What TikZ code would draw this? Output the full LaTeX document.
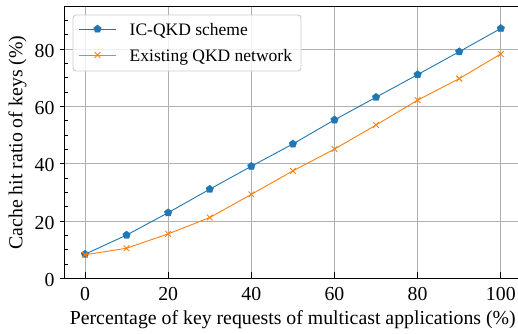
\documentclass[tikz,border=0pt]{standalone}
\usepackage{fontspec}
\setmainfont{Liberation Serif}
\usetikzlibrary{plotmarks}
\definecolor{mplblue}{HTML}{1F77B4}
\definecolor{mplorange}{HTML}{FF7F0E}
\definecolor{gridgray}{HTML}{B0B0B0}
\definecolor{legendedge}{HTML}{CCCCCC}
\tikzset{
  gridline/.style={draw=gridgray, line width=0.9pt},
  axisline/.style={draw=black, line width=1pt},
  tickline/.style={draw=black, line width=0.9pt},
  bluecurve/.style={draw=mplblue, line width=0.9pt, mark=pentagon*, mark size=4pt,
    mark options={fill=mplblue, draw=mplblue, line width=0.3pt}},
  orangecurve/.style={draw=mplorange, line width=0.9pt, mark=x, mark size=4pt,
    mark options={draw=mplorange, line width=0.9pt}},
  ticklabel/.style={font=\fontsize{19.8}{22}\selectfont, inner sep=0pt},
  axislabel/.style={font=\fontsize{19.8}{22}\selectfont, inner sep=0pt},
  legendtext/.style={font=\fontsize{17.5}{20}\selectfont, inner sep=0pt, anchor=base west},
  legendbox/.style={draw=legendedge, line width=0.9pt, fill=white, fill opacity=0.8, rounded corners=3pt}
}
\begin{document}
\begin{tikzpicture}[x=1pt, y=1pt]
\useasboundingbox (0,0) rectangle (518,333);
\clip (0,0) rectangle (518,333);

% plotting area: data coordinates (percent, percent)
\begin{scope}[shift={(85,54.7)}, x=4.158pt, y=2.865pt]
  % grid
  \foreach \gx in {0,20,...,100}
    \draw[gridline] (\gx,0) -- (\gx,94.7);
  \foreach \gy in {20,40,60,80}
    \draw[gridline] (-5,\gy) -- (106,\gy);

  % curves
  \draw[bluecurve] plot coordinates {
    (0,8.4) (10,15.1) (20,22.9) (30,31.1) (40,39.1) (50,46.9)
    (60,55.3) (70,63.2) (80,71.1) (90,79.1) (100,87.2)};
  \draw[orangecurve] plot coordinates {
    (0,8.2) (10,10.5) (20,15.5) (30,21.2) (40,29.3) (50,37.5)
    (60,45.1) (70,53.5) (80,62.2) (90,69.7) (100,78.3)};

  % spines
  \draw[axisline] (106,94.7) -- (-5,94.7) -- (-5,0) -- (106,0);

  % x ticks and labels
  \foreach \gx in {0,20,...,100} {
    \draw[tickline] (\gx,0) -- ++(0,6pt);
    \node[ticklabel, anchor=base] at ([yshift=-21.7pt]\gx,0) {\gx};
  }
  % y ticks and labels
  \foreach \gy in {0,20,...,80} {
    \draw[tickline] (-5,\gy) -- ++(-4.5pt,0);
    \node[ticklabel, anchor=base east] at ([xshift=-9.5pt, yshift=-8pt]-5,\gy) {\gy};
  }
  \foreach \gy in {5,10,15,25,30,35,45,50,55,65,70,75,85,90} {
    \draw[tickline, line width=0.7pt] (-5,\gy) -- ++(3.5pt,0);
  }
\end{scope}

% axis labels
\node[axislabel, rotate=90] (ylab) at (17.5,190.4) {Cache hit ratio of keys (\%)};
\node[axislabel, anchor=base] (xlab) at (292.8,8.7) {Percentage of key requests of multicast applications (\%)};

% legend
\draw[legendbox] (73,262) rectangle (301,318);
\draw[mplblue, line width=0.9pt] (79,304) -- (116,304);
\draw[bluecurve] plot coordinates {(97.5,304)};
\node[legendtext] (leg1) at (129.5,297.3) {IC-QKD scheme};
\draw[mplorange, line width=0.9pt] (79,278) -- (116,278);
\draw[orangecurve] plot coordinates {(97.5,278)};
\node[legendtext] (leg2) at (129.5,271.3) {Existing QKD network};
\end{tikzpicture}
\end{document}
